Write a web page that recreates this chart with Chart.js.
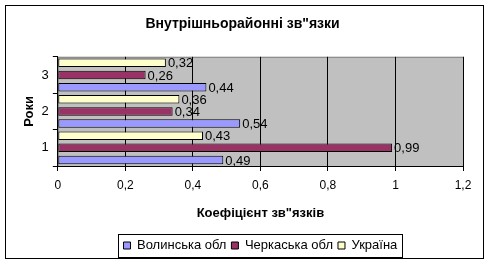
<!DOCTYPE html>
<html>
<head>
<meta charset="utf-8">
<script src="https://cdn.jsdelivr.net/npm/chart.js@4"></script>
<style>
  body { margin: 0; background: #fff; }
  canvas { display: block; }
</style>
</head>
<body>
<canvas id="myChart" width="489" height="266"></canvas>
<script>
// Дані графіка
const categories = ['1', '2', '3'];
const volynValues = [0.49, 0.54, 0.44];
const cherkasyValues = [0.99, 0.34, 0.26];
const ukraineValues = [0.43, 0.36, 0.32];
const xTicks = [0, 0.2, 0.4, 0.6, 0.8, 1, 1.2];

const fontFamily = '"Liberation Sans", Arial, sans-serif';
const fmt = v => String(v).replace('.', ',');

// Фон області побудови, рамка графіка, рамка легенди, підписи значень
const excelLook = {
    id: 'excelLook',
    beforeDraw(chart) {
        const c = chart.ctx, a = chart.chartArea;
        c.save();
        c.fillStyle = '#fff';
        c.fillRect(0, 0, chart.width, chart.height);
        c.fillStyle = '#C0C0C0';
        c.fillRect(a.left, a.top, a.right - a.left, a.bottom - a.top);
        c.strokeStyle = '#808080';
        c.lineWidth = 1;
        c.strokeRect(a.left + 0.5, a.top + 0.5, a.right - a.left, a.bottom - a.top);
        c.restore();
    },
    afterDraw(chart) {
        const c = chart.ctx;
        c.save();
        // зовнішня рамка
        c.strokeStyle = '#000';
        c.lineWidth = 1;
        c.strokeRect(5.5, 5.5, 478, 253);
        // рамка легенди
        const boxes = chart.legend.legendHitBoxes;
        if (boxes && boxes.length) {
            const l = Math.min(...boxes.map(b => b.left)) - 5;
            const r = Math.max(...boxes.map(b => b.left + b.width)) + 5;
            const t = Math.min(...boxes.map(b => b.top)) - 5;
            const bt = Math.max(...boxes.map(b => b.top + b.height)) + 5;
            c.strokeRect(Math.round(l) + 0.5, Math.round(t) + 0.5, Math.round(r - l), Math.round(bt - t));
        }
        // підписи значень
        c.fillStyle = '#000';
        c.font = '13px ' + fontFamily;
        c.textBaseline = 'middle';
        c.textAlign = 'left';
        chart.data.datasets.forEach((ds, i) => {
            chart.getDatasetMeta(i).data.forEach((bar, j) => {
                c.fillText(fmt(ds.data[j]), bar.x + 2, bar.y + 1);
            });
        });
        c.restore();
    }
};

const ctx = document.getElementById('myChart').getContext('2d');
new Chart(ctx, {
    type: 'bar',
    data: {
        labels: categories,
        datasets: [
            { label: 'Україна', data: ukraineValues, backgroundColor: '#FFFFCC' },
            { label: 'Черкаська обл', data: cherkasyValues, backgroundColor: '#993366' },
            { label: 'Волинська обл', data: volynValues, backgroundColor: '#9999FF' }
        ]
    },
    options: {
        indexAxis: 'y',
        responsive: false,
        animation: false,
        devicePixelRatio: 1,
        layout: { padding: { left: 22, right: 26, top: 6, bottom: 4 } },
        datasets: {
            bar: {
                borderColor: '#000',
                borderWidth: 1,
                borderSkipped: false,
                categoryPercentage: 1,
                barPercentage: 0.7
            }
        },
        scales: {
            x: {
                min: 0,
                max: 1.2,
                afterBuildTicks: axis => { axis.ticks = xTicks.map(v => ({ value: v })); },
                ticks: {
                    color: '#000',
                    font: { family: fontFamily, size: 12 },
                    padding: 7,
                    callback: v => fmt(v)
                },
                grid: { color: '#000', tickLength: 5, drawTicks: true },
                border: { color: '#000' },
                title: {
                    display: true,
                    text: 'Коефіцієнт зв"язків',
                    color: '#000',
                    font: { family: fontFamily, size: 13, weight: 'bold' },
                    padding: { top: 6, bottom: 13 }
                }
            },
            y: {
                reverse: true,
                ticks: {
                    color: '#000',
                    font: { family: fontFamily, size: 13 },
                    padding: 4
                },
                grid: { offset: true, drawOnChartArea: false, color: '#000', tickLength: 5 },
                border: { color: '#000' },
                title: {
                    display: true,
                    text: 'Роки',
                    color: '#000',
                    font: { family: fontFamily, size: 13, weight: 'bold' },
                    padding: { top: 0, bottom: 0 }
                }
            }
        },
        plugins: {
            title: {
                display: true,
                text: 'Внутрішньорайонні зв"язки',
                color: '#000',
                font: { family: fontFamily, size: 14, weight: 'bold' },
                padding: { top: 10, bottom: 24 }
            },
            legend: {
                position: 'bottom',
                fullSize: false,
                reverse: true,
                labels: {
                    color: '#000',
                    font: { family: fontFamily, size: 13 },
                    boxWidth: 7,
                    boxHeight: 7,
                    padding: 5
                }
            },
            tooltip: { enabled: false }
        }
    },
    plugins: [excelLook]
});
</script>
</body>
</html>
